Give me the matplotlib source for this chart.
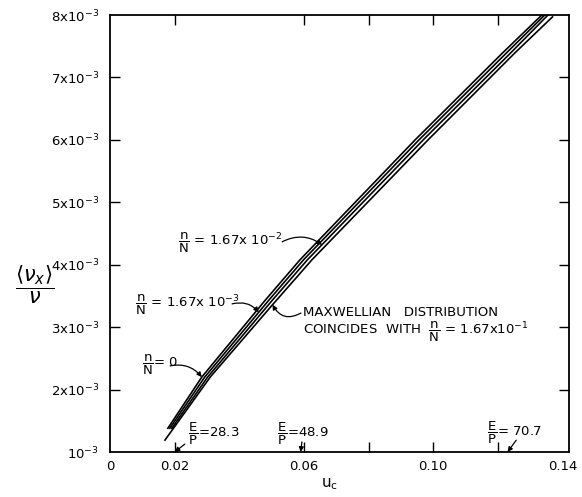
import numpy as np
import matplotlib.pyplot as plt

plt.rcParams['font.family'] = 'DejaVu Sans'
plt.rcParams['mathtext.fontset'] = 'dejavusans'

# curves: u_c versus <nu_x>/nu (in units of 1e-3)
v_lines = np.array([1.38, 2.20, 3.43, 4.08, 6.00, 7.40, 8.00]) * 1e-3
u_n0 = [0.0179, 0.0284, 0.0480, 0.0588, 0.0944, 0.1216, 0.1336]
u_n3 = [0.0185, 0.0293, 0.0491, 0.0599, 0.0956, 0.1228, 0.1345]
u_n2 = [0.0191, 0.0302, 0.0502, 0.0611, 0.0969, 0.1241, 0.1355]

v_maxw = np.array([1.19, 2.20, 3.36, 4.08, 6.00, 7.40, 7.97]) * 1e-3
u_maxw = [0.0170, 0.0310, 0.0503, 0.0625, 0.0984, 0.1254, 0.1369]

# E/P markers along the u_c axis
ep_vals = [28.3, 48.9, 70.7]
ep_u = [0.020, 0.059, 0.123]

x_ticks = [0.02, 0.06, 0.08, 0.10, 0.12]
x_labels = ['0.02', '0.06', '', '0.10', '']
y_ticks = [2e-3, 3e-3, 4e-3, 5e-3, 6e-3, 7e-3]
y_labels = ['%dx10$^{-3}$' % k for k in range(2, 8)]

fig = plt.figure(figsize=(5.82, 4.97), dpi=100)
ax = fig.add_axes([110 / 582, 45 / 497, 459 / 582, 437 / 497])

for u, v in [(u_n0, v_lines), (u_n3, v_lines), (u_n2, v_lines), (u_maxw, v_maxw)]:
    ax.plot(u, v, color='black', lw=1.2)

ax.set_xlim(0, 0.142)
ax.set_ylim(1e-3, 8e-3)

ax.set_xticks(x_ticks, x_labels)
ax.set_xticks([0, 0.14], ['0', '0.14'], minor=True)
ax.set_yticks(y_ticks, y_labels)
ax.set_yticks([1e-3, 8e-3], ['10$^{-3}$', '8x10$^{-3}$'], minor=True)
ax.tick_params(which='major', direction='in', length=7, width=1,
               top=True, right=True, labelsize=9.5, pad=6)
ax.tick_params(which='minor', length=0, labelsize=9.5, pad=6)
ax.tick_params(axis='y', which='both', pad=8)
for s in ax.spines.values():
    s.set_linewidth(1.3)

fig.text(35 / 582, 1 - 285 / 497, r'$\dfrac{\langle\nu_x\rangle}{\nu}$',
         fontsize=15, ha='center', va='center')
fig.text(330 / 582, 0.025, r'u$_\mathrm{c}$', fontsize=11, ha='center', va='center')

arrow = dict(arrowstyle='-|>', color='black', lw=0.9, mutation_scale=7,
             shrinkA=0, shrinkB=0)
frac = r'$\dfrac{\mathrm{n}}{\mathrm{N}}$'

# n/N labels
ax.text(0.148, 0.478, frac + ' = 1.67x 10$^{-2}$', transform=ax.transAxes,
        fontsize=9.5, va='center')
ax.annotate('', xy=(np.interp(4.32e-3, v_lines, u_n2), 4.32e-3),
            xytext=(0.375, 0.481), textcoords='axes fraction',
            arrowprops=dict(arrow, connectionstyle='arc3,rad=-0.3'))

ax.text(0.054, 0.336, frac + ' = 1.67x 10$^{-3}$', transform=ax.transAxes,
        fontsize=9.5, va='center')
ax.annotate('', xy=(np.interp(3.24e-3, v_lines, u_n3), 3.24e-3),
            xytext=(0.266, 0.339), textcoords='axes fraction',
            arrowprops=dict(arrow, connectionstyle='arc3,rad=-0.3'))

ax.text(0.070, 0.199, frac + '= 0', transform=ax.transAxes,
        fontsize=9.5, va='center')
ax.annotate('', xy=(u_n0[1], v_lines[1]),
            xytext=(0.131, 0.197), textcoords='axes fraction',
            arrowprops=dict(arrow, connectionstyle='arc3,rad=-0.3'))

ax.text(0.420, 0.320, 'MAXWELLIAN   DISTRIBUTION', transform=ax.transAxes,
        fontsize=9.5, va='center')
ax.text(0.420, 0.275, 'COINCIDES  WITH  ' + frac + ' = 1.67x10$^{-1}$',
        transform=ax.transAxes, fontsize=9.5, va='center')
ax.annotate('', xy=(u_maxw[2], v_maxw[2]),
            xytext=(0.416, 0.318), textcoords='axes fraction',
            arrowprops=dict(arrow, connectionstyle='arc3,rad=-0.5'))

# E/P labels along the bottom axis
ep_text = [(0.170, 0.041), (0.364, 0.041), (0.821, 0.043)]
ep_tail = [(0.163, 0.018), (0.418, 0.023), (0.885, 0.027)]
ep_sep = ['=', '=', '= ']
for val, u, (tx, ty), tail, sep in zip(ep_vals, ep_u, ep_text, ep_tail, ep_sep):
    ax.text(tx, ty, r'$\dfrac{\mathrm{E}}{\mathrm{P}}$' + sep + '%.1f' % val,
            transform=ax.transAxes, fontsize=9.5, va='center')
    ax.annotate('', xy=(u, 1e-3), xytext=tail, textcoords='axes fraction',
                arrowprops=arrow)

fig.savefig('out.png', dpi=100)
